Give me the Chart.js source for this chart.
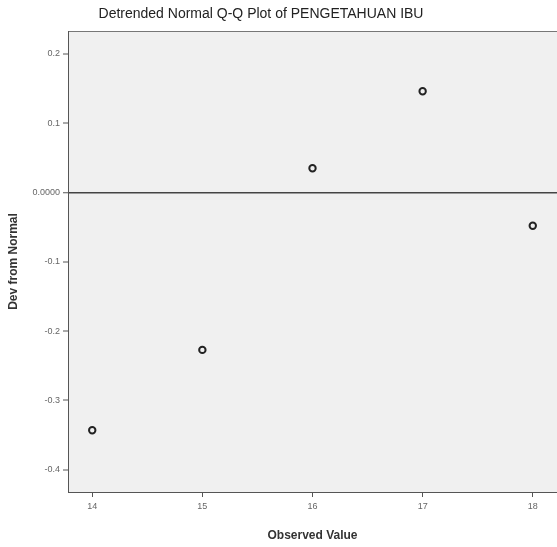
<!DOCTYPE html>
<html>
<head>
<meta charset="utf-8">
<script src="https://cdn.jsdelivr.net/npm/chart.js@4/dist/chart.umd.min.js"></script>
<style>
  html, body { margin: 0; padding: 0; background: #fff; }
  #wrap { width: 557px; height: 547px; }
</style>
</head>
<body>
<div id="wrap"><canvas id="qq"></canvas></div>
<script>
// data
var observed = [14, 15, 16, 17, 18];
var deviation = [-0.343, -0.227, 0.035, 0.146, -0.048];
var xTicks = [14, 15, 16, 17, 18];
var yTicks = [0.2, 0.1, 0, -0.1, -0.2, -0.3, -0.4];
var titleText = 'Detrended Normal Q-Q Plot of PENGETAHUAN IBU';

var points = observed.map(function (v, i) { return { x: v, y: deviation[i] }; });

// gray plot area + top frame + title
var plotBg = {
  id: 'plotBg',
  beforeDraw: function (chart) {
    var a = chart.chartArea, ctx = chart.ctx;
    ctx.save();
    ctx.fillStyle = '#f0f0f0';
    ctx.fillRect(a.left, a.top, a.right - a.left, a.bottom - a.top);
    ctx.strokeStyle = '#777';
    ctx.lineWidth = 1;
    ctx.beginPath();
    ctx.moveTo(a.left, a.top + 0.5);
    ctx.lineTo(a.right, a.top + 0.5);
    ctx.stroke();
    ctx.fillStyle = '#222';
    ctx.font = '14px "Liberation Sans", Arial, sans-serif';
    ctx.textAlign = 'center';
    ctx.textBaseline = 'middle';
    ctx.fillText(titleText, 261, 14);
    ctx.restore();
  }
};

new Chart(document.getElementById('qq'), {
  type: 'scatter',
  data: {
    datasets: [{
      data: points,
      pointStyle: 'circle',
      pointRadius: 3.2,
      pointBorderWidth: 2,
      borderColor: '#222',
      backgroundColor: '#f0f0f0'
    }]
  },
  options: {
    responsive: true,
    maintainAspectRatio: false,
    animation: false,
    layout: { autoPadding: false, padding: { top: 31, left: 0, right: 0, bottom: 0 } },
    plugins: { legend: { display: false }, tooltip: { enabled: false } },
    scales: {
      x: {
        type: 'linear',
        min: 13.78,
        max: 18.22,
        afterBuildTicks: function (s) { s.ticks = xTicks.map(function (v) { return { value: v }; }); },
        afterFit: function (s) { s.height = 55; s.paddingRight = 0; s.paddingLeft = 0; },
        border: { color: '#555', width: 1 },
        grid: { drawOnChartArea: false, tickColor: '#555', tickLength: 5, tickWidth: 1 },
        ticks: { color: '#666', font: { size: 9, family: 'Liberation Sans' }, padding: 4 },
        title: {
          display: true,
          text: 'Observed Value',
          color: '#333',
          font: { size: 12, weight: 'bold', family: 'Liberation Sans' },
          padding: { top: 0, bottom: 4 }
        }
      },
      y: {
        min: -0.432,
        max: 0.233,
        afterBuildTicks: function (s) { s.ticks = yTicks.map(function (v) { return { value: v }; }); },
        afterFit: function (s) { s.width = 68; s.paddingTop = 0; s.paddingBottom = 0; },
        border: { color: '#555', width: 1 },
        grid: {
          color: function (c) { return c.tick && c.tick.value === 0 ? '#444' : 'rgba(0,0,0,0)'; },
          lineWidth: function (c) { return c.tick && c.tick.value === 0 ? 1.5 : 0; },
          tickColor: '#555',
          tickWidth: 1,
          tickLength: 5
        },
        ticks: {
          color: '#666',
          font: { size: 9, family: 'Liberation Sans' },
          padding: 3,
          callback: function (v) { return v === 0 ? '0.0000' : v.toFixed(1); }
        },
        title: {
          display: true,
          text: 'Dev from Normal',
          color: '#333',
          font: { size: 12, weight: 'bold', family: 'Liberation Sans' },
          padding: { top: 6, bottom: 0 }
        }
      }
    }
  },
  plugins: [plotBg]
});
</script>
</body>
</html>
